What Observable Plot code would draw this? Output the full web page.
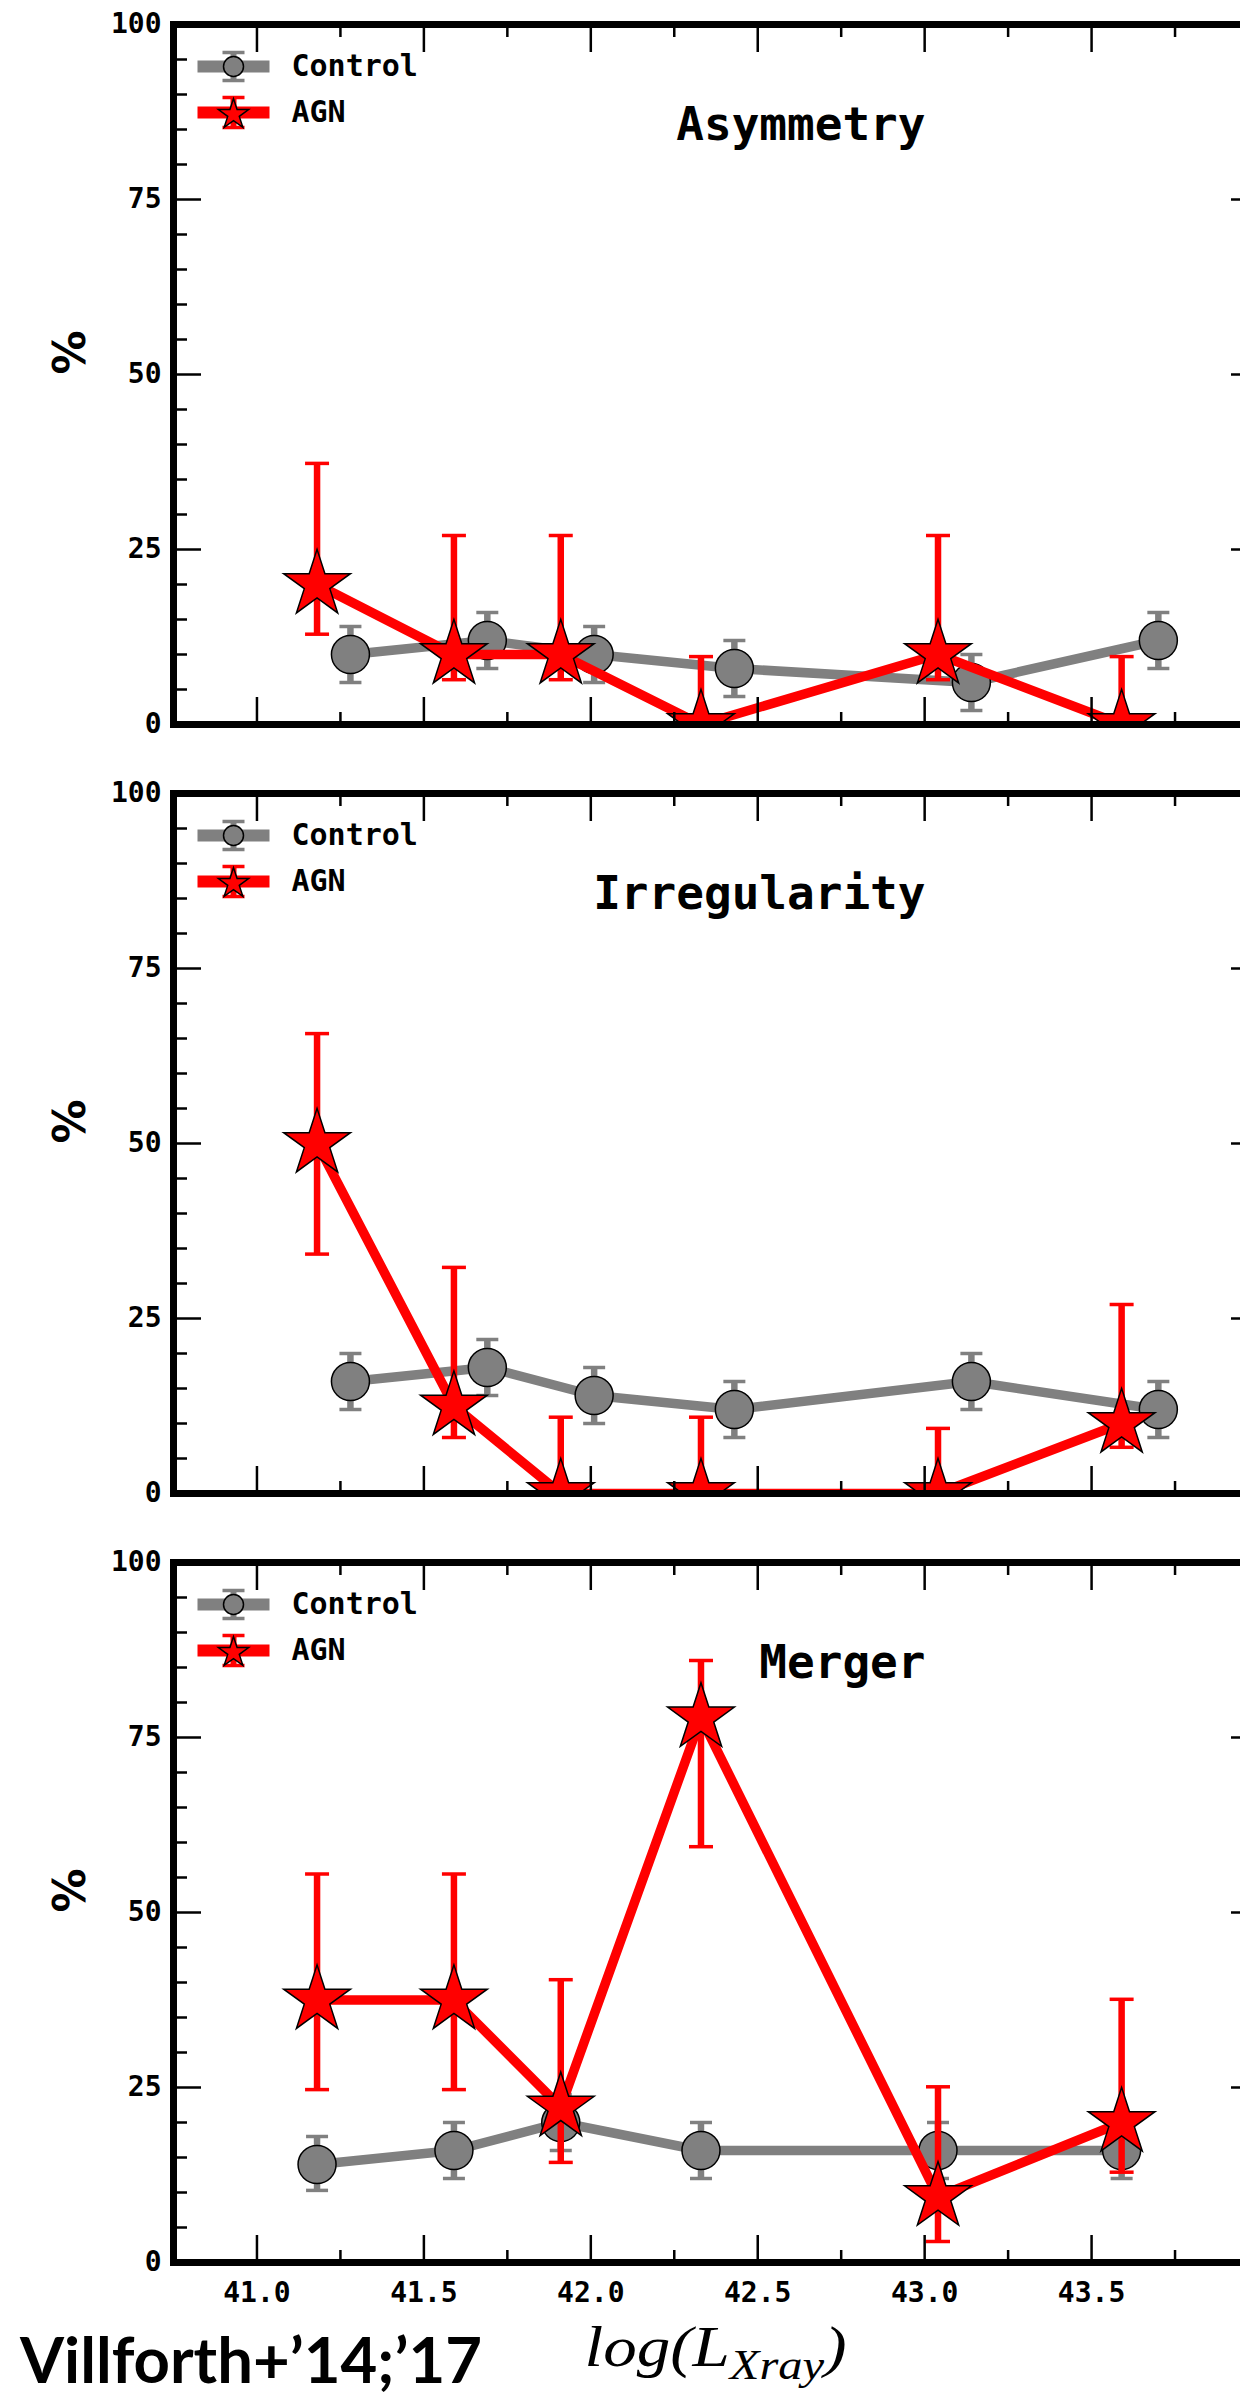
<!DOCTYPE html>
<html>
<head>
<meta charset="utf-8">
<script src="https://cdn.jsdelivr.net/npm/d3@7"></script>
<script src="https://cdn.jsdelivr.net/npm/@observablehq/plot@0.6"></script>
<style>
html, body { margin: 0; padding: 0; background: #fff; }
#chart { width: 1240px; height: 2397px; overflow: hidden; position: relative; background: #fff; }
#chart svg { display: block; max-width: none; }
</style>
</head>
<body>
<div id="chart"></div>
<script>
// ---------- data ----------
const panelTitles = ["Asymmetry", "Irregularity", "Merger"];
const seriesNames = ["Control", "AGN"];

// x positions (log L_Xray)
const xAgn = [41.18, 41.59, 41.91, 42.33, 43.04, 43.59];
const xCtrlShifted = [41.28, 41.69, 42.01, 42.43, 43.14, 43.70];

// Asymmetry
const asymCtrl   = [10, 12, 10, 8, 6, 12];
const asymCtrlLo = [6, 8, 6, 4, 2, 8];
const asymCtrlHi = [14, 16, 14, 12, 10, 16];
const asymAgn    = [20, 10, 10, 0, 10, 0];
const asymAgnLo  = [12.9, 6.4, 6.4, 0, 6.4, 0];
const asymAgnHi  = [37.3, 27, 27, 9.7, 27, 9.7];

// Irregularity
const irrCtrl   = [16, 18, 14, 12, 16, 12];
const irrCtrlLo = [12, 14, 10, 8, 12, 8];
const irrCtrlHi = [20, 22, 18, 16, 20, 16];
const irrAgn    = [50, 12.5, 0, 0, 0, 10];
const irrAgnLo  = [34.2, 8, 0, 0, 0, 6.6];
const irrAgnHi  = [65.7, 32.3, 10.9, 10.9, 9.3, 27];

// Merger
const merCtrl   = [14, 16, 20, 16, 16, 16];
const merCtrlLo = [10.3, 12, 16, 12, 12, 12];
const merCtrlHi = [18, 20, 24, 20, 20, 20];
const merAgn    = [37.5, 37.5, 22.2, 77.8, 9.4, 20];
const merAgnLo  = [24.7, 24.7, 14.3, 59.4, 3, 12.9];
const merAgnHi  = [55.5, 55.5, 40.4, 86, 25.1, 37.6];

// ticks
const xMajor = [41.0, 41.5, 42.0, 42.5, 43.0, 43.5];
const xMinor = [41.25, 41.75, 42.25, 42.75, 43.25, 43.75];
const yMajor = [0, 25, 50, 75, 100];
const yMinor = [5, 10, 15, 20, 30, 35, 40, 45, 55, 60, 65, 70, 80, 85, 90, 95];
const xDomain = [40.75, 44.0];
const yDomain = [0, 100];

const xLabelMain = "log(L";
const xLabelSub = "Xray";
const xLabelEnd = ")";
const captionText = "Villforth+\u201914;\u201917";

// ---------- style ----------
const GRAY = "#808080", RED = "#ff0000";
const W = 1240, ML = 173, MR = -18, MT = 24, AREA = 700;

const hSeg = (hw) => ({ draw(ctx) { ctx.moveTo(-hw, 0); ctx.lineTo(hw, 0); } });
const vSeg = (h) => ({ draw(ctx) { ctx.moveTo(0, -h); ctx.lineTo(0, h); } });
const capPair = (h, hw) => ({ draw(ctx) {
  ctx.moveTo(-hw, -h); ctx.lineTo(hw, -h);
  ctx.moveTo(-hw, h); ctx.lineTo(hw, h);
} });

const noText = () => "";

function axes(bottomLabels) {
  const common = { label: null, strokeWidth: 2.5 };
  return [
    Plot.axisX({ ...common, anchor: "bottom", ticks: xMajor, tickSize: -27, tickPadding: 47,
      tickFormat: bottomLabels ? d3.format(".1f") : noText }),
    Plot.axisX({ ...common, anchor: "bottom", ticks: xMinor, tickSize: -12, tickFormat: noText }),
    Plot.axisX({ ...common, anchor: "top", ticks: xMajor, tickSize: -27, tickFormat: noText }),
    Plot.axisX({ ...common, anchor: "top", ticks: xMinor, tickSize: -12, tickFormat: noText }),
    Plot.axisY({ ...common, anchor: "left", ticks: yMajor, tickSize: -28, tickPadding: 40,
      tickFormat: d => String(d) }),
    Plot.axisY({ ...common, anchor: "left", ticks: yMinor, tickSize: -14, tickFormat: noText }),
    Plot.axisY({ ...common, anchor: "right", ticks: yMajor, tickSize: -28, tickFormat: noText }),
    Plot.axisY({ ...common, anchor: "right", ticks: yMinor, tickSize: -14, tickFormat: noText })
  ];
}

function legend() {
  const fa = { frameAnchor: "top-left" };
  const cx = 60, yC = 42, yA = 88;
  return [
    // Control
    Plot.dot([0], { ...fa, dx: cx, dy: yC, symbol: hSeg(36), stroke: GRAY, strokeWidth: 12, fill: "none" }),
    Plot.dot([0], { ...fa, dx: cx, dy: yC, symbol: vSeg(14), stroke: GRAY, strokeWidth: 6, fill: "none" }),
    Plot.dot([0], { ...fa, dx: cx, dy: yC, symbol: capPair(14, 11), stroke: GRAY, strokeWidth: 3.5, fill: "none" }),
    Plot.dot([0], { ...fa, dx: cx, dy: yC, r: 10, fill: GRAY, stroke: "black", strokeWidth: 1.5 }),
    Plot.text([seriesNames[0]], { ...fa, dx: 118, dy: yC, text: d => d, textAnchor: "start", lineAnchor: "middle", fontSize: 30 }),
    // AGN
    Plot.dot([0], { ...fa, dx: cx, dy: yA, symbol: hSeg(36), stroke: RED, strokeWidth: 12, fill: "none" }),
    Plot.dot([0], { ...fa, dx: cx, dy: yA, symbol: vSeg(15), stroke: RED, strokeWidth: 6, fill: "none" }),
    Plot.dot([0], { ...fa, dx: cx, dy: yA, symbol: capPair(15, 11), stroke: RED, strokeWidth: 3.5, fill: "none" }),
    Plot.dot([0], { ...fa, dx: cx, dy: yA + 2, r: 9.5, symbol: "star", fill: RED, stroke: "black", strokeWidth: 1.5 }),
    Plot.text([seriesNames[1]], { ...fa, dx: 118, dy: yA, text: d => d, textAnchor: "start", lineAnchor: "middle", fontSize: 30 })
  ];
}

function panel({ title, ctrlX, ctrl, ctrlLo, ctrlHi, agn, agnLo, agnHi, bottomLabels, marginBottom }) {
  const C = ctrlX.map((x, i) => ({ x, y: ctrl[i], lo: ctrlLo[i], hi: ctrlHi[i] }));
  const A = xAgn.map((x, i) => ({ x, y: agn[i], lo: agnLo[i], hi: agnHi[i] }));
  const clip = true;
  return Plot.plot({
    width: W,
    height: MT + AREA + marginBottom,
    marginLeft: ML, marginRight: MR, marginTop: MT, marginBottom,
    style: { fontFamily: "'DejaVu Sans Mono', monospace", fontWeight: "bold", fontSize: "28px",
      color: "black", background: "white", overflow: "hidden" },
    x: { domain: xDomain },
    y: { domain: yDomain },
    marks: [
      // Control
      Plot.ruleX(C, { x: "x", y1: "lo", y2: "hi", stroke: GRAY, strokeWidth: 6.5, clip }),
      Plot.dot(C, { x: "x", y: "lo", symbol: hSeg(11), stroke: GRAY, strokeWidth: 3.5, fill: "none", clip }),
      Plot.dot(C, { x: "x", y: "hi", symbol: hSeg(11), stroke: GRAY, strokeWidth: 3.5, fill: "none", clip }),
      Plot.line(C, { x: "x", y: "y", stroke: GRAY, strokeWidth: 9.5, strokeLinejoin: "round", clip }),
      Plot.dot(C, { x: "x", y: "y", r: 19, fill: GRAY, stroke: "black", strokeWidth: 1.5, clip }),
      // AGN
      Plot.ruleX(A, { x: "x", y1: "lo", y2: "hi", stroke: RED, strokeWidth: 6.5, clip }),
      Plot.dot(A, { x: "x", y: "lo", symbol: hSeg(12), stroke: RED, strokeWidth: 3.5, fill: "none", clip }),
      Plot.dot(A, { x: "x", y: "hi", symbol: hSeg(12), stroke: RED, strokeWidth: 3.5, fill: "none", clip }),
      Plot.line(A, { x: "x", y: "y", stroke: RED, strokeWidth: 9.5, strokeLinejoin: "round", clip }),
      Plot.dot(A, { x: "x", y: "y", r: 21, symbol: "star", fill: RED, stroke: "black", strokeWidth: 1.5, clip }),
      // axes + frame
      ...axes(bottomLabels),
      Plot.frame({ stroke: "black", strokeWidth: 7 }),
      // title
      Plot.text([title], { frameAnchor: "top-left", dx: 752, dy: 101, text: d => d,
        textAnchor: "end", lineAnchor: "middle", fontSize: 46 }),
      // y label
      Plot.text(["%"], { frameAnchor: "left", dx: -103, text: d => d, rotate: -90,
        fontSize: 44, fontFamily: "'DejaVu Sans', sans-serif", fontWeight: "bold" }),
      ...legend()
    ]
  });
}

const chart = document.getElementById("chart");

const p1 = panel({ title: panelTitles[0], ctrlX: xCtrlShifted, ctrl: asymCtrl, ctrlLo: asymCtrlLo, ctrlHi: asymCtrlHi,
  agn: asymAgn, agnLo: asymAgnLo, agnHi: asymAgnHi, bottomLabels: false, marginBottom: 45 });
const p2 = panel({ title: panelTitles[1], ctrlX: xCtrlShifted, ctrl: irrCtrl, ctrlLo: irrCtrlLo, ctrlHi: irrCtrlHi,
  agn: irrAgn, agnLo: irrAgnLo, agnHi: irrAgnHi, bottomLabels: false, marginBottom: 45 });
const p3 = panel({ title: panelTitles[2], ctrlX: xAgn, ctrl: merCtrl, ctrlLo: merCtrlLo, ctrlHi: merCtrlHi,
  agn: merAgn, agnLo: merAgnLo, agnHi: merAgnHi, bottomLabels: true, marginBottom: 135 });

chart.appendChild(p1);
chart.appendChild(p2);
chart.appendChild(p3);

// x-axis label and caption in the bottom panel's margin
const s3 = d3.select(p3);
const frameBottom = MT + AREA;
const frameCenter = (ML + (W - MR)) / 2;
const lab = s3.append("text")
  .attr("x", frameCenter)
  .attr("y", frameBottom + 104)
  .attr("text-anchor", "middle")
  .attr("textLength", 262)
  .attr("lengthAdjust", "spacingAndGlyphs")
  .style("font-family", "'Liberation Serif', 'DejaVu Serif', serif")
  .style("font-style", "italic")
  .style("font-weight", "normal")
  .style("font-size", "58px")
  .attr("fill", "black");
lab.append("tspan").text(xLabelMain);
lab.append("tspan").attr("dy", 13).style("font-size", "42px").text(xLabelSub);
lab.append("tspan").attr("dy", -13).text(xLabelEnd);

s3.append("text")
  .attr("x", 20)
  .attr("y", frameBottom + 121)
  .attr("text-anchor", "start")
  .attr("textLength", 462)
  .attr("lengthAdjust", "spacingAndGlyphs")
  .style("font-family", "Lato, 'Open Sans', sans-serif")
  .style("font-weight", "bold")
  .style("font-size", "64px")
  .attr("fill", "black")
  .text(captionText);
</script>
</body>
</html>
